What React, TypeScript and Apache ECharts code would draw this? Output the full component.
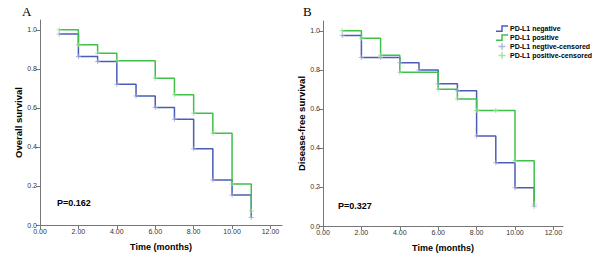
import React, { useEffect, useRef } from "react";
import * as echarts from "echarts";

// Panel A: overall survival
const negOSTime = [1, 2, 3, 4, 5, 6, 7, 8, 9, 10, 11];
const negOS = [0.978, 0.863, 0.838, 0.721, 0.661, 0.602, 0.542, 0.39, 0.231, 0.154, 0.039];
const posOSTime = [1, 2, 3, 4, 6, 7, 8, 9, 10, 11];
const posOS = [1.0, 0.923, 0.88, 0.841, 0.752, 0.667, 0.573, 0.47, 0.21, 0.072];
const negOSCens = [1, 2, 3, 4, 5, 6, 7, 8, 9, 10, 11];
const posOSCens = [1, 2, 3, 4, 6, 7, 8, 9, 10, 11];

// Panel B: disease-free survival
const negDFSTime = [1, 2, 4, 5, 6, 7, 8, 9, 10, 11];
const negDFS = [0.976, 0.863, 0.836, 0.799, 0.729, 0.693, 0.461, 0.324, 0.196, 0.101];
const posDFSTime = [1, 2, 3, 4, 6, 7, 8, 10, 11];
const posDFS = [1.0, 0.962, 0.875, 0.788, 0.7, 0.65, 0.592, 0.334, 0.113];
const negDFSCens = [1, 2, 3, 4, 5, 6, 7, 8, 9, 10, 11];
const posDFSCens = [1, 2, 3, 4, 6, 7, 8, 9, 10, 11];

const xTicks = [0, 2, 4, 6, 8, 10, 12];
const pValues = ["P=0.162", "P=0.327"];
const names = ["PD-L1 negative", "PD-L1 positive", "PD-L1 negtive-censored", "PD-L1 positive-censored"];

const BLUE = "#4a5cb6";
const GREEN = "#3fc04a";
const BLUE_L = "#9aa3d6";
const GREEN_L = "#8ed890";
const FONT = "Liberation Sans";

const PLUS = "path://M4,0L6,0L6,4L10,4L10,6L6,6L6,10L4,10L4,6L0,6L0,4L4,4Z";
const STEP = "path://M0,7L7,7L7,0L16,0L16,2L9,2L9,9L0,9Z";

function pairs(t: number[], v: number[]) {
  return t.map((x, i) => [x, v[i]]);
}
function stepAt(t: number[], v: number[], x: number) {
  let val = v[0];
  for (let i = 0; i < t.length; i++) if (t[i] <= x) val = v[i];
  return val;
}
function cens(ct: number[], t: number[], v: number[]) {
  return ct.map((x) => [x, stepAt(t, v, x)]);
}

export default function App() {
  const ref = useRef<HTMLDivElement>(null);
  useEffect(() => {
    if (!ref.current) return;
    const chart = echarts.init(ref.current, null, { renderer: "svg" });
    const xAxisBase = (gi: number, max: number) => ({
      type: "value",
      gridIndex: gi,
      min: 0,
      max,
      interval: 2,
      name: "Time (months)",
      nameLocation: "middle",
      nameGap: 17,
      nameTextStyle: { fontFamily: FONT, fontWeight: "bold", fontSize: 9, color: "#000" },
      axisLine: { lineStyle: { color: "#777", width: 1 } },
      axisTick: { show: true, length: 4, lineStyle: { color: "#777" } },
      axisLabel: {
        fontFamily: FONT,
        fontSize: 7,
        color: "#333",
        margin: 3,
        showMaxLabel: false,
        formatter: (v: number) => (xTicks.includes(v) ? v.toFixed(2) : ""),
      },
      splitLine: { show: false },
    });
    const yAxisBase = (gi: number, name: string, gap: number) => ({
      type: "value",
      gridIndex: gi,
      min: 0,
      max: 1.05,
      interval: 0.2,
      name,
      nameLocation: "middle",
      nameRotate: 90,
      nameGap: gap,
      nameTextStyle: { fontFamily: FONT, fontWeight: "bold", fontSize: 9.5, color: "#000" },
      axisLine: { show: true, lineStyle: { color: "#777", width: 1 } },
      axisTick: { show: true, length: 4, lineStyle: { color: "#777" } },
      axisLabel: {
        fontFamily: FONT,
        fontSize: 7,
        color: "#333",
        margin: 3,
        showMaxLabel: false,
        formatter: (v: number) => (v <= 1.0001 ? v.toFixed(1) : ""),
      },
      splitLine: { show: false },
    });
    const lineS = (name: string, gi: number, data: number[][], color: string) => ({
      type: "line",
      name,
      xAxisIndex: gi,
      yAxisIndex: gi,
      step: "end",
      data,
      showSymbol: false,
      color,
      lineStyle: { color, width: 1.5 },
      z: 2,
    });
    const censS = (name: string, gi: number, data: number[][], color: string) => ({
      type: "scatter",
      name,
      xAxisIndex: gi,
      yAxisIndex: gi,
      data,
      symbol: PLUS,
      symbolSize: 5,
      color,
      itemStyle: { color },
      z: 3,
    });
    chart.setOption({
      animation: false,
      backgroundColor: "#fff",
      grid: [
        { left: 40, width: 242, top: 20, height: 205 },
        { left: 323, width: 240, top: 21, height: 205 },
      ],
      xAxis: [xAxisBase(0, 12.6), xAxisBase(1, 12.5)],
      yAxis: [yAxisBase(0, "Overall survival", 15), yAxisBase(1, "Disease-free survival", 16)],
      legend: {
        orient: "vertical",
        left: 491,
        top: 20,
        itemWidth: 12,
        itemHeight: 7,
        itemGap: 2,
        textStyle: { fontFamily: FONT, fontWeight: "bold", fontSize: 7, color: "#000", padding: [0, 0, 0, -3] },
        data: [
          { name: names[0], icon: STEP },
          { name: names[1], icon: STEP },
          { name: names[2], icon: PLUS },
          { name: names[3], icon: PLUS },
        ],
      },
      series: [
        lineS(names[0], 0, pairs(negOSTime, negOS), BLUE),
        lineS(names[1], 0, pairs(posOSTime, posOS), GREEN),
        censS(names[2], 0, cens(negOSCens, negOSTime, negOS), BLUE_L),
        censS(names[3], 0, cens(posOSCens, posOSTime, posOS), GREEN_L),
        lineS(names[0], 1, pairs(negDFSTime, negDFS), BLUE),
        lineS(names[1], 1, pairs(posDFSTime, posDFS), GREEN),
        censS(names[2], 1, cens(negDFSCens, negDFSTime, negDFS), BLUE_L),
        censS(names[3], 1, cens(posDFSCens, posDFSTime, posDFS), GREEN_L),
      ],
      graphic: [
        { type: "text", left: 22, top: 5, style: { text: "A", font: "13px 'Liberation Serif'", fill: "#000" } },
        { type: "text", left: 303, top: 5, style: { text: "B", font: "13px 'Liberation Serif'", fill: "#000" } },
        { type: "text", left: 57, top: 198, style: { text: pValues[0], font: "bold 9px 'Liberation Sans'", fill: "#000" } },
        { type: "text", left: 338, top: 201, style: { text: pValues[1], font: "bold 9px 'Liberation Sans'", fill: "#000" } },
      ],
    });
    return () => chart.dispose();
  }, []);
  return <div ref={ref} style={{ width: 600, height: 257, position: "absolute", left: 0, top: 0 }} />;
}
